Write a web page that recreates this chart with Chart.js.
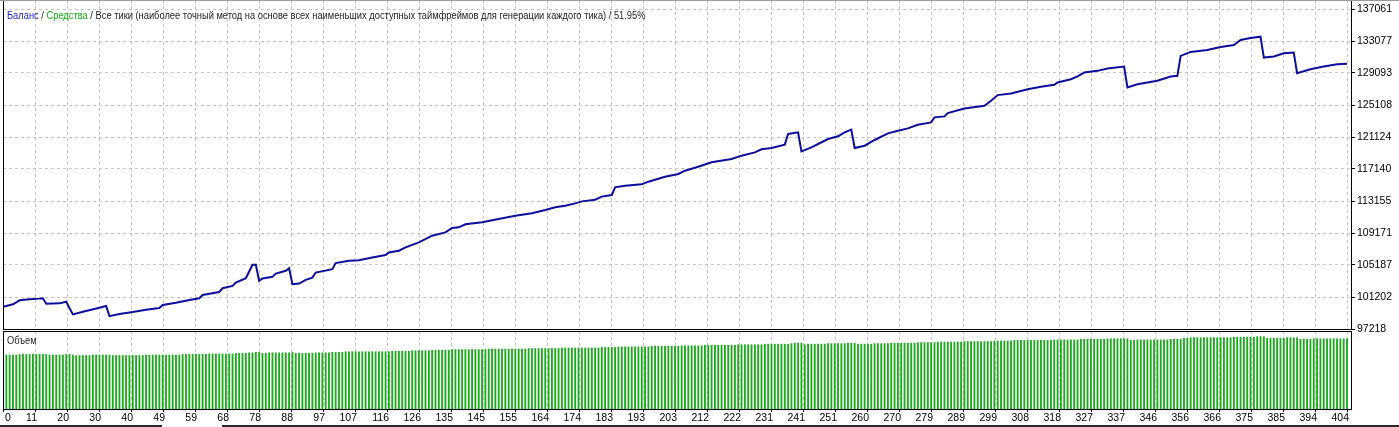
<!DOCTYPE html>
<html>
<head>
<meta charset="utf-8">
<script src="https://cdn.jsdelivr.net/npm/chart.js@4.4.1/dist/chart.umd.min.js"></script>
<style>
  body { margin: 0; background: #fff; width: 1399px; height: 427px; overflow: hidden; position: relative; font-family: "Liberation Sans", Arial, sans-serif; }
  #main { position: absolute; left: 0; top: 0; }
  #vol { position: absolute; left: 0; top: 330px; }
  .lbl { position: absolute; font-size: 10.5px; line-height: 14px; color: #1e1e1e; white-space: nowrap; transform: scaleX(0.887); transform-origin: 0 0; }
  .bal { color: #1c1cc8; }
  .eq { color: #13b013; }
  .rule { position: absolute; height: 1px; }
</style>
</head>
<body>
<canvas id="main" width="1399" height="342"></canvas>
<canvas id="vol" width="1399" height="97"></canvas>
<div class="lbl" style="left:7px;top:8px"><span class="bal">Баланс</span> / <span class="eq">Средства</span> / Все тики (наиболее точный метод на основе всех наименьших доступных таймфреймов для генерации каждого тика) / 51.95%</div>
<div class="lbl" style="left:7px;top:333px">Объем</div>
<div class="rule" style="left:0;right:0;top:0;background:#9a9a9a"></div>
<div class="rule" style="left:0;width:162px;top:425px;height:2px;background:#2a2a2a"></div>
<div class="rule" style="left:222px;right:0;top:425px;height:2px;background:#2a2a2a"></div>
<script>
// balance curve: trade number -> balance
const tradeNo = [
  0, 3, 5, 8, 11, 12, 13, 17, 19, 21,
  24, 29, 31, 32, 35, 39, 43, 47, 48, 52,
  56, 59, 60, 65, 66, 69, 70, 73, 74, 75,
  76, 77, 78, 81, 82, 85, 86, 87, 89, 91,
  93, 94, 99, 100, 104, 107, 111, 115, 116, 119,
  121, 125, 129, 133, 135, 137, 139, 144, 149, 154,
  159, 163, 166, 169, 172, 174, 178, 180, 183, 184,
  187, 192, 194, 199, 203, 205, 209, 213, 219, 222,
  226, 228, 231, 235, 236, 239, 240, 243, 245, 248,
  251, 253, 255, 256, 259, 262, 266, 269, 272, 275,
  279, 280, 283, 284, 289, 295, 297, 299, 303, 308,
  312, 316, 317, 321, 323, 325, 329, 332, 337, 338,
  341, 347, 351, 353, 354, 357, 362, 366, 370, 372,
  375, 378, 379, 382, 385, 388, 389, 393, 397, 401,
  404
];
const balance = [
  100000, 100300, 100790, 100910, 101000, 101040, 100370, 100410, 100620, 99030,
  99370, 99870, 100080, 98820, 99080, 99330, 99620, 99830, 100200, 100490,
  100830, 101040, 101450, 101830, 102290, 102580, 103000, 103540, 104370, 105210,
  105210, 103210, 103500, 103710, 104120, 104460, 104790, 102790, 102870, 103330,
  103620, 104250, 104670, 105420, 105710, 105790, 106130, 106420, 106750, 106960,
  107380, 108000, 108840, 109250, 109800, 109880, 110250, 110500, 110910, 111330,
  111620, 112030, 112370, 112570, 112860, 113110, 113320, 113700, 113900, 114860,
  115060, 115230, 115560, 116180, 116520, 116930, 117430, 117970, 118380, 118800,
  119210, 119590, 119750, 120170, 121500, 121700, 119340, 119840, 120250, 120870,
  121210, 121700, 122040, 119750, 120040, 120750, 121580, 121910, 122200, 122650,
  122940, 123570, 123690, 124100, 124680, 125010, 125630, 126340, 126540, 127080,
  127370, 127620, 127910, 128320, 128660, 129150, 129360, 129650, 129900, 127290,
  127700, 128120, 128650, 128740, 131220, 131720, 131960, 132340, 132580, 133200,
  133450, 133620, 131010, 131140, 131550, 131630, 129070, 129560, 129900, 130190,
  130230
];

// volume (lots) of trades 1..404
const volume = [
  1.00, 1.00, 1.00, 1.00, 1.01, 1.01, 1.01, 1.01, 1.01, 1.01,
  1.01, 1.01, 1.01, 1.00, 1.00, 1.00, 1.00, 1.00, 1.01, 1.01,
  1.00, 0.99, 0.99, 0.99, 0.99, 0.99, 1.00, 1.00, 1.00, 1.00,
  1.00, 1.00, 0.99, 0.99, 0.99, 0.99, 0.99, 0.99, 0.99, 0.99,
  0.99, 0.99, 1.00, 1.00, 1.00, 1.00, 1.00, 1.00, 1.00, 1.00,
  1.00, 1.00, 1.00, 1.01, 1.01, 1.01, 1.01, 1.01, 1.01, 1.01,
  1.01, 1.02, 1.02, 1.02, 1.02, 1.02, 1.02, 1.02, 1.02, 1.03,
  1.03, 1.03, 1.03, 1.04, 1.04, 1.05, 1.05, 1.03, 1.03, 1.04,
  1.04, 1.04, 1.04, 1.04, 1.04, 1.04, 1.05, 1.03, 1.03, 1.03,
  1.03, 1.03, 1.03, 1.04, 1.04, 1.04, 1.04, 1.04, 1.05, 1.05,
  1.05, 1.05, 1.06, 1.06, 1.06, 1.06, 1.06, 1.06, 1.06, 1.06,
  1.06, 1.06, 1.06, 1.06, 1.06, 1.06, 1.07, 1.07, 1.07, 1.07,
  1.07, 1.07, 1.08, 1.08, 1.08, 1.08, 1.08, 1.08, 1.09, 1.09,
  1.09, 1.09, 1.09, 1.09, 1.10, 1.10, 1.10, 1.10, 1.10, 1.10,
  1.10, 1.10, 1.10, 1.10, 1.10, 1.11, 1.11, 1.11, 1.11, 1.11,
  1.11, 1.11, 1.11, 1.11, 1.11, 1.11, 1.11, 1.12, 1.12, 1.12,
  1.12, 1.12, 1.12, 1.12, 1.12, 1.12, 1.12, 1.13, 1.13, 1.13,
  1.13, 1.13, 1.13, 1.13, 1.13, 1.13, 1.13, 1.13, 1.13, 1.14,
  1.14, 1.14, 1.14, 1.14, 1.15, 1.15, 1.15, 1.15, 1.15, 1.15,
  1.15, 1.15, 1.15, 1.15, 1.16, 1.16, 1.16, 1.16, 1.16, 1.16,
  1.16, 1.16, 1.16, 1.17, 1.17, 1.17, 1.17, 1.17, 1.17, 1.17,
  1.18, 1.18, 1.18, 1.18, 1.18, 1.18, 1.18, 1.18, 1.18, 1.18,
  1.19, 1.19, 1.19, 1.19, 1.19, 1.19, 1.19, 1.19, 1.20, 1.20,
  1.20, 1.20, 1.20, 1.20, 1.20, 1.20, 1.21, 1.22, 1.22, 1.22,
  1.19, 1.20, 1.20, 1.20, 1.20, 1.20, 1.20, 1.21, 1.21, 1.21,
  1.21, 1.21, 1.21, 1.22, 1.22, 1.22, 1.20, 1.20, 1.20, 1.20,
  1.20, 1.21, 1.21, 1.21, 1.21, 1.21, 1.22, 1.22, 1.22, 1.22,
  1.22, 1.22, 1.22, 1.22, 1.23, 1.23, 1.23, 1.23, 1.23, 1.23,
  1.24, 1.24, 1.24, 1.24, 1.24, 1.24, 1.24, 1.24, 1.25, 1.25,
  1.25, 1.25, 1.25, 1.25, 1.25, 1.25, 1.25, 1.26, 1.26, 1.26,
  1.26, 1.26, 1.26, 1.27, 1.27, 1.27, 1.27, 1.27, 1.27, 1.27,
  1.27, 1.27, 1.27, 1.27, 1.27, 1.28, 1.28, 1.28, 1.28, 1.28,
  1.28, 1.28, 1.28, 1.29, 1.29, 1.29, 1.29, 1.29, 1.29, 1.29,
  1.29, 1.30, 1.30, 1.30, 1.30, 1.30, 1.30, 1.30, 1.27, 1.27,
  1.28, 1.28, 1.28, 1.28, 1.28, 1.28, 1.28, 1.28, 1.28, 1.28,
  1.29, 1.29, 1.29, 1.29, 1.31, 1.31, 1.32, 1.32, 1.32, 1.32,
  1.32, 1.32, 1.32, 1.32, 1.32, 1.32, 1.32, 1.32, 1.32, 1.33,
  1.33, 1.33, 1.33, 1.33, 1.33, 1.33, 1.34, 1.34, 1.34, 1.31,
  1.31, 1.31, 1.31, 1.31, 1.31, 1.32, 1.32, 1.32, 1.32, 1.29,
  1.29, 1.29, 1.29, 1.30, 1.30, 1.30, 1.30, 1.30, 1.30, 1.30,
  1.30, 1.30, 1.30, 1.30
];

// axis labels as printed on the chart
const xTickLabels = [0, 11, 20, 30, 40, 49, 59, 68, 78, 88, 97, 107, 116, 126, 135, 145, 155, 164, 174, 183,
  193, 203, 212, 222, 231, 241, 251, 260, 270, 279, 289, 299, 308, 318, 327, 337, 346, 356, 366, 375, 385, 394, 404];
const yTickLabels = [97218, 101202, 105187, 109171, 113155, 117140, 121124, 125108, 129093, 133077, 137061];

const X_MAX = 405.2;
const Y_MIN = 97218;
const Y_MAX = 138182;
const VOL_MAX = 1.444;

const FONT = { family: "'Liberation Sans', Arial, sans-serif", size: 10.5 };
const GRID_COLOR = "#c4c4c4";

// x grid lines sit at evenly spaced positions, labelled from xTickLabels
const lastLabel = xTickLabels[xTickLabels.length - 1];
const placeXTicks = (scale) => {
  scale.ticks = xTickLabels.map((lab, k) => ({ value: (k * lastLabel) / (xTickLabels.length - 1) }));
};

const panelFrame = {
  id: "panelFrame",
  afterDraw(chart) {
    const { ctx, chartArea: a } = chart;
    ctx.save();
    ctx.strokeStyle = "#000";
    ctx.lineWidth = 1;
    ctx.strokeRect(Math.round(a.left) + 0.5, Math.round(a.top) + 0.5,
      Math.round(a.right - a.left), Math.round(a.bottom - a.top));
    ctx.restore();
  },
};

// the very first x label is left aligned, the others end at their grid line
const firstLabelLeft = {
  id: "firstLabelLeft",
  afterLayout(chart) {
    const sc = chart.scales.x;
    if (!sc.options.ticks.display) return;
    const items = sc.getLabelItems();
    if (items.length) items[0].options.textAlign = "left";
  },
};

new Chart(document.getElementById("main").getContext("2d"), {
  type: "line",
  data: {
    datasets: [
      {
        data: tradeNo.map((t, i) => ({ x: t, y: balance[i] })),
        borderColor: "#0e0e9c",
        borderWidth: 2,
        pointRadius: 0,
        tension: 0,
      },
    ],
  },
  options: {
    responsive: false,
    animation: false,
    events: [],
    layout: { padding: { left: 3, top: 0, right: 0, bottom: 13 } },
    plugins: { legend: { display: false }, tooltip: { enabled: false } },
    scales: {
      x: {
        type: "linear",
        min: 0,
        max: X_MAX,
        bounds: "data",
        afterBuildTicks: placeXTicks,
        afterFit: (s) => { s.height = 0; s.paddingLeft = 0; s.paddingRight = 0; },
        ticks: { display: false },
        grid: { color: GRID_COLOR, drawTicks: false, borderDash: [3, 3] },
        border: { display: false, dash: [3, 3] },
      },
      y: {
        position: "right",
        min: Y_MIN,
        max: Y_MAX,
        bounds: "data",
        afterBuildTicks: (s) => { s.ticks = yTickLabels.map((v) => ({ value: v })); },
        afterFit: (s) => { s.width = 48; s.paddingTop = 0; s.paddingBottom = 0; },
        ticks: { font: FONT, color: "#000", padding: 2, autoSkip: false, callback: (v) => String(v) },
        grid: { color: GRID_COLOR, tickColor: "#000", tickLength: 4, borderDash: [3, 3] },
        border: { display: false, dash: [3, 3] },
      },
    },
  },
  plugins: [panelFrame],
});

new Chart(document.getElementById("vol").getContext("2d"), {
  type: "bar",
  data: {
    datasets: [
      {
        data: volume.map((v, i) => ({ x: i + 1, y: v })),
        backgroundColor: "#1ea81e",
        borderWidth: 0,
        barThickness: 1.2,
      },
    ],
  },
  options: {
    responsive: false,
    animation: false,
    events: [],
    layout: { padding: { left: 3, top: 1, right: 48, bottom: 0 } },
    plugins: { legend: { display: false }, tooltip: { enabled: false } },
    scales: {
      x: {
        type: "linear",
        min: 0,
        max: X_MAX,
        bounds: "data",
        offset: false,
        afterBuildTicks: placeXTicks,
        afterFit: (s) => { s.height = 18; s.paddingLeft = 0; s.paddingRight = 0; },
        ticks: {
          font: FONT,
          color: "#000",
          align: "end",
          labelOffset: 2,
          padding: 0,
          autoSkip: false,
          maxRotation: 0,
          minRotation: 0,
          callback: (v, i) => String(xTickLabels[i]),
        },
        grid: { color: GRID_COLOR, tickColor: "#000", tickLength: 3, offset: false, borderDash: [3, 3] },
        border: { display: false, dash: [3, 3] },
      },
      y: {
        display: false,
        min: 0,
        max: VOL_MAX,
      },
    },
  },
  plugins: [panelFrame, firstLabelLeft],
});
</script>
</body>
</html>
